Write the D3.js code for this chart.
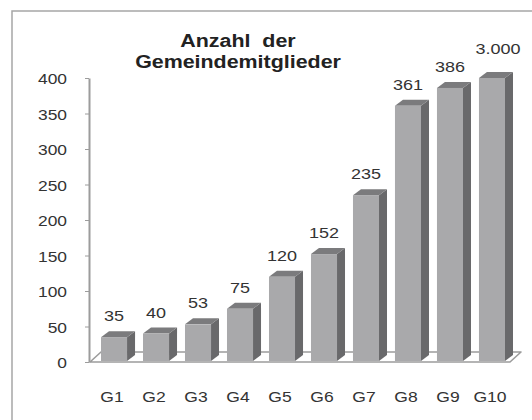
<!DOCTYPE html>
<html>
<head>
<meta charset="utf-8">
<script src="https://cdn.jsdelivr.net/npm/d3@7"></script>
<style>
  body { margin: 0; background: #fff; }
  text { font-family: "Liberation Sans", Arial, sans-serif; fill: #333; }
</style>
</head>
<body>
<div id="wrapper"></div>
<script>
// Data
const categories = ["G1", "G2", "G3", "G4", "G5", "G6", "G7", "G8", "G9", "G10"];
const members = [35, 40, 53, 75, 120, 152, 235, 361, 386, 3000];
const yTicks = [0, 50, 100, 150, 200, 250, 300, 350, 400];
const titleLines = ["Anzahl  der", "Gemeindemitglieder"];

// Dimensions
const width = 532, height = 420;
const yMax = 400;
const depth = { dx: 8, dy: -6 };
const floorDepth = { dx: 11, dy: -10 };
const stretch = 1.2; // text in the picture is a little wider than normal

const svg = d3.select("#wrapper").append("svg")
  .attr("width", width)
  .attr("height", height);

// frame (runs past the bottom and right edge)
svg.append("rect")
  .attr("x", 12).attr("y", 11)
  .attr("width", 540).attr("height", 430)
  .attr("fill", "#fff")
  .attr("stroke", "#a6a6a6")
  .attr("stroke-width", 1.5);

// Scales
const x = d3.scaleBand()
  .domain(categories)
  .range([90, 516])
  .paddingInner(0.38)
  .paddingOuter(0.262);

const y = d3.scaleLinear()
  .domain([0, yMax])
  .range([362, 78]);

const fmt = d3.formatLocale({ decimal: ",", thousands: ".", grouping: [3], currency: ["", "€"] }).format(",");

// Floor
const fx0 = 90;
const fx1 = x(categories[categories.length - 1]) + x.bandwidth() + 5;
const fy = y(0);
svg.append("path")
  .attr("d", `M${fx0},${fy} L${fx1},${fy} L${fx1 + floorDepth.dx},${fy + floorDepth.dy} L${fx0 + floorDepth.dx},${fy + floorDepth.dy} Z`)
  .attr("fill", "#fff")
  .attr("stroke", "#9c9c9c")
  .attr("stroke-width", 1.6)
  .attr("stroke-linejoin", "round");

// Y axis
const yAxis = svg.append("g")
  .attr("transform", "translate(89,0)")
  .call(d3.axisLeft(y).tickValues(yTicks).tickSize(4).tickSizeOuter(0));
yAxis.select(".domain").attr("stroke", "#9c9c9c").attr("stroke-width", 2);
yAxis.selectAll(".tick line").attr("stroke", "#9c9c9c").attr("stroke-width", 1);
yAxis.selectAll(".tick text")
  .attr("x", -22 / stretch)
  .attr("dy", "0.4em")
  .attr("transform", `scale(${stretch},1)`)
  .style("font-family", "'Liberation Sans', Arial, sans-serif")
  .style("font-size", "14.5px")
  .style("fill", "#333");

// Bars
const shown = (v) => Math.min(v, yMax);
const bars = svg.append("g").selectAll("g.bar")
  .data(categories.map((c, i) => ({ cat: c, value: members[i] })))
  .join("g")
  .attr("class", "bar");

const bw = x.bandwidth();

// side face
bars.append("path")
  .attr("d", (d) => {
    const x1 = x(d.cat) + bw, yt = y(shown(d.value)), yb = y(0) - 1;
    return `M${x1},${yt} L${x1 + depth.dx},${yt + depth.dy} L${x1 + depth.dx},${yb + depth.dy} L${x1},${yb} Z`;
  })
  .attr("fill", "#69696b");

// top face
bars.append("path")
  .attr("d", (d) => {
    const x0 = x(d.cat), yt = y(shown(d.value));
    return `M${x0},${yt} L${x0 + depth.dx},${yt + depth.dy} L${x0 + bw + depth.dx},${yt + depth.dy} L${x0 + bw},${yt} Z`;
  })
  .attr("fill", "#7b7b7d");

// front face
bars.append("rect")
  .attr("x", (d) => x(d.cat))
  .attr("y", (d) => y(shown(d.value)))
  .attr("width", bw)
  .attr("height", (d) => y(0) - 1 - y(shown(d.value)))
  .attr("fill", "#a9a9ab");

// value labels
bars.append("text")
  .attr("transform", (d) => {
    const clipped = d.value > yMax;
    const cx = x(d.cat) + bw / 2 + (clipped ? 6 : 0);
    const cy = y(shown(d.value)) - 16 - (clipped ? 8 : 0);
    return `translate(${cx},${cy}) scale(${stretch},1)`;
  })
  .attr("text-anchor", "middle")
  .style("font-size", "15px")
  .text((d) => fmt(d.value));

// category labels
svg.append("g").selectAll("text")
  .data(categories)
  .join("text")
  .attr("transform", (d) => `translate(${x(d) + bw / 2 - 2},402) scale(1.17,1)`)
  .attr("text-anchor", "middle")
  .style("font-size", "15px")
  .text((d) => d);

// Title
svg.append("g").selectAll("text")
  .data(titleLines)
  .join("text")
  .attr("transform", (d, i) => `translate(238,${47 + i * 21}) scale(1.19,1)`)
  .attr("text-anchor", "middle")
  .style("font-size", "18px")
  .style("font-weight", "bold")
  .style("fill", "#222")
  .style("white-space", "pre")
  .text((d) => d);
</script>
</body>
</html>
